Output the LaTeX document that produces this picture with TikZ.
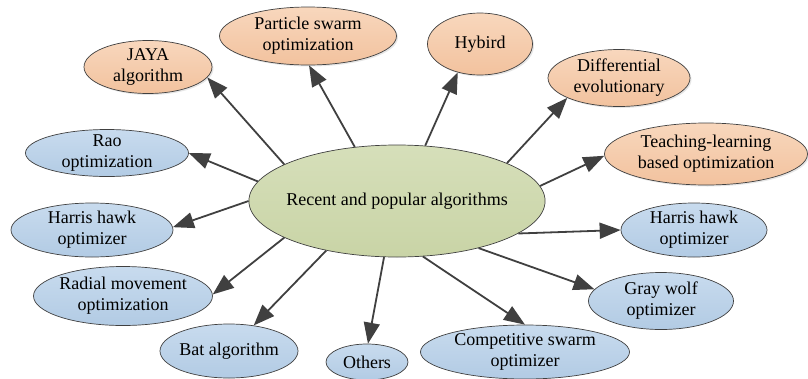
\documentclass[tikz,border=0pt]{standalone}
\usepackage{fontspec}
\setmainfont{Liberation Serif}
\usepackage{tikz}
\usetikzlibrary{arrows.meta,shapes.geometric,shadows}

\definecolor{hubtop}{HTML}{D6DFBA}
\definecolor{hubbot}{HTML}{C9D4A6}
\definecolor{warmtop}{HTML}{F8D7BD}
\definecolor{warmbot}{HTML}{F2C29E}
\definecolor{cooltop}{HTML}{C8DBEE}
\definecolor{coolbot}{HTML}{B2CBE4}
\definecolor{arrowgray}{HTML}{404040}

\begin{document}
\begin{tikzpicture}[x=1pt, y=-1pt,
    alg/.style={ellipse, draw=black!75, line width=0.7pt, inner sep=-6pt,
                align=center, font=\fontsize{18}{21}\selectfont},
    hub/.style={alg, top color=hubtop, bottom color=hubbot},
    warmalg/.style={alg, top color=warmtop, bottom color=warmbot,
                    drop shadow={opacity=0.2, shadow xshift=1.5pt, shadow yshift=-1.5pt}},
    coolalg/.style={alg, top color=cooltop, bottom color=coolbot},
    arrow/.style={-{Triangle[length=21pt, width=16pt]}, line width=1.8pt, draw=arrowgray},
  ]
  \useasboundingbox (0,0) rectangle (808,378);

  \node[hub, minimum width=290, minimum height=112] (core) at (397,201)
    {Recent and popular algorithms};

  % upper ring
  \node[warmalg, minimum width=128, minimum height=53] (jaya) at (148,67) {JAYA\\algorithm};
  \node[warmalg, minimum width=177, minimum height=58] (pso) at (308,36) {Particle swarm\\optimization};
  \node[warmalg, minimum width=105, minimum height=62] (hybrid) at (480,44) {Hybird};
  \node[warmalg, minimum width=142, minimum height=57] (de) at (619,78) {Differential\\evolutionary};
  \node[warmalg, minimum width=203, minimum height=62] (tlbo) at (706,154) {Teaching-learning\\based optimization};

  % left and lower ring
  \node[coolalg, minimum width=163, minimum height=47] (rao) at (107,153) {Rao\\optimization};
  \node[coolalg, minimum width=162, minimum height=54] (hhoL) at (92,230) {Harris hawk\\optimizer};
  \node[coolalg, minimum width=179, minimum height=59] (rmo) at (123,296) {Radial movement\\optimization};
  \node[coolalg, minimum width=138, minimum height=54] (bat) at (229,351) {Bat algorithm};
  \node[coolalg, minimum width=82, minimum height=36] (others) at (367,362) {Others};
  \node[coolalg, minimum width=209, minimum height=54] (cso) at (525,352) {Competitive swarm\\optimizer};
  \node[coolalg, minimum width=145, minimum height=57] (gwo) at (661,301) {Gray wolf\\optimizer};
  \node[coolalg, minimum width=146, minimum height=54] (hhoR) at (694,230) {Harris hawk\\optimizer};

  \draw[arrow] (core.162) -- (jaya.350);
  \draw[arrow] (core.128) -- (pso.272);
  \draw[arrow] (core.63) -- (hybrid.232);
  \draw[arrow] (core.19) -- (de.201);
  \draw[arrow] (core.6) -- (tlbo.181);
  \draw[arrow] (core.172) -- (rao.0);
  \draw[arrow] (core.180) -- (hhoL.2);
  \draw[arrow] (core.198) -- (rmo.1);
  \draw[arrow] (core.215) -- (bat.46);
  \draw[arrow] (core.257) -- (others.87);
  \draw[arrow] (core.295) -- (cso.90);
  \draw[arrow] (core.330) -- (gwo.170);
  \draw[arrow] (core.345) -- (hhoR.180);
\end{tikzpicture}
\end{document}
